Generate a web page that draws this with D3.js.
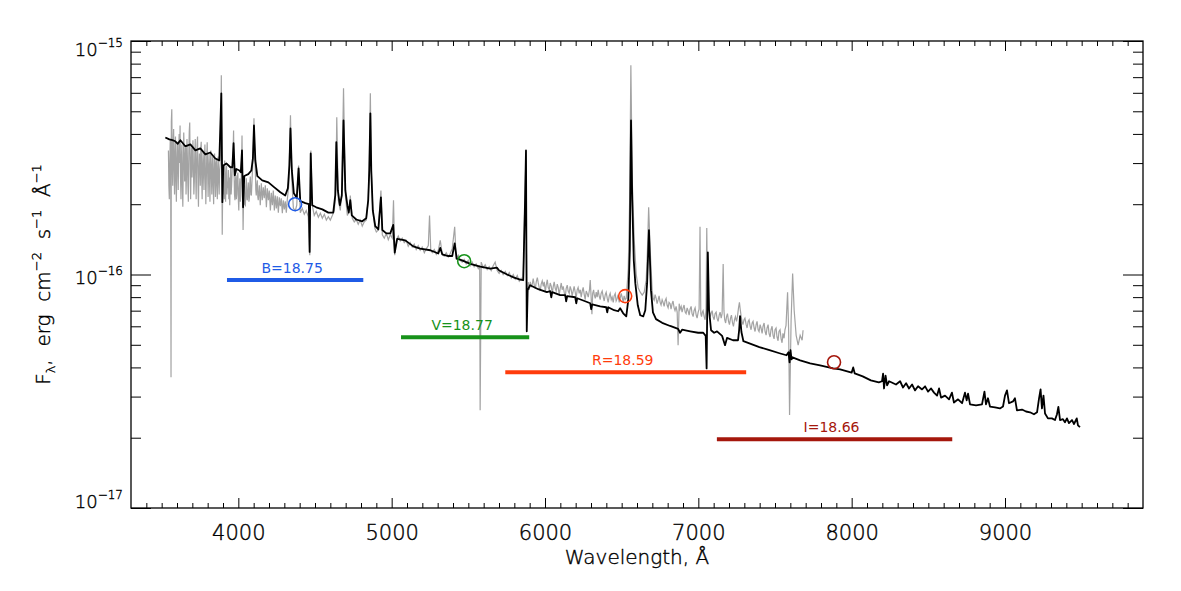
<!DOCTYPE html>
<html>
<head>
<meta charset="utf-8">
<script src="https://cdn.jsdelivr.net/npm/d3@7"></script>
<style>
  body { margin: 0; background: #fff; }
  svg text { font-family: "DejaVu Sans", sans-serif; font-weight: 200; fill: #000; stroke: #000; stroke-width: 0.4px; }
  svg text.band-label { font-weight: 400; stroke: none; }
</style>
</head>
<body>
<svg id="chart"></svg>
<script>
// flux values are in units of 1e-17 erg cm^-2 s^-1 A^-1
const UNIT = 1e-17;
const waveTicks = [4000, 5000, 6000, 7000, 8000, 9000];
const fluxTicks = [1e-17, 1e-16, 1e-15];
const fluxTickExp = ['\u221217', '\u221216', '\u221215'];

const bandNames = ['B', 'V', 'R', 'I'];
const bandMags = ['18.75', '18.77', '18.59', '18.66'];
const bandWave = [4370, 5473, 6523, 7885];
const bandFlux = [20.0, 11.4, 8.08, 4.21];
const bandLo = [3926, 5061, 5741, 7121];
const bandHi = [4815, 5897, 7312, 8656];
const bandBarFlux = [9.47, 5.38, 3.81, 1.97];
const bandColors = ['#1f5be6', '#17921a', '#ff3c0c', '#a5170c'];

// observed spectrum (grey)
const obsSpectrum = [
[3544,34],[3547,24],[3550,21],[3553,30],[3556,38],[3559,27],[3561,3.63],[3563,45],[3566,51],[3569,30],[3572,24],[3575,36],[3578,42],[3581,28],[3584,22],[3587,33],[3590,39],[3593,25],[3596,20.5],[3599,31],[3602,37],[3605,29],[3608,23],[3611,34],[3614,40],[3617,30],[3620,43.5],[3623,26],[3626,21],[3629,32],[3632,36],[3635,24],[3638,19.5],[3641,29],[3644,40.6],[3647,33],[3650,25],[3653,30],[3656,35],[3659,22],[3662,27],[3665,38],[3668,31],[3671,24],[3674,20.5],[3677,33],[3680,41],[3683,44.8],[3686,28],[3689,21],[3692,30],[3695,35],[3698,26],[3701,31],[3704,37.6],[3707,29],[3710,22],[3713,25],[3716,33],[3719,38],[3722,27],[3725,21],[3728,30],[3731,36],[3734,39],[3737,24],[3740,19.5],[3743,28],[3746,33],[3749,30],[3752,24],[3755,35],[3758,37],[3761,26],[3764,21],[3767,29],[3770,33.3],[3773,27],[3776,23],[3779,31],[3782,36],[3785,28],[3788,20],[3791,25],[3794,32],[3797,36.8],[3800,27],[3803,21.5],[3806,28],[3809,33],[3812,25],[3815,20.5],[3818,30],[3821,34],[3824,27],[3827,22],[3830,29],[3833,32],[3836,24],[3839,20],[3842,28],[3845,33],[3848,26],[3851,21.5],[3854,30],[3857,31],[3860,24],[3863,21],[3866,29],[3869,32],[3872,25],[3875,22],[3878,28],[3882,30],[3886,40],[3889,71.4],[3892,38],[3895,14.8],
[3899,27],[3902,22],[3905,29],[3908,21],[3911,30.8],[3914,24],[3917,20.5],[3920,27],[3923,29.3],[3926,22],[3929,25],[3932,23.4],[3935,28],[3938,21],[3941,26],[3944,19.8],[3947,25],[3950,28.5],[3953,22],[3956,24],[3959,27],[3962,30.8],[3966,34],[3969,41.4],[3972,28],[3975,22],[3978,20.8],[3981,25],[3984,26.6],[3987,21],[3990,22],[3993,26],[3997,27.3],[4000,21],[4003,18.8],[4006,23],[4010,25.8],[4013,20.5],[4016,21.8],[4020,27],[4024,39.4],[4028,24],[4031,15.5],[4035,22],[4039,24.1],[4042,20],[4046,19.8],[4049,23.5],[4052,25.8],[4056,21],[4059,20.8],[4062,23],[4065,24.8],[4069,20.5],[4072,21.2],[4075,24.5],[4078,26.3],[4082,22],[4085,21.8],[4090,26],[4095,30.8],[4099,38],[4102,46.7],[4106,33],[4111,27.9],[4114,23],[4117,21.8],[4120,24],[4124,25.3],[4127,21.5],[4130,20.8],
[4137,24.1],[4143,19.8],[4150,24.6],[4156,20.8],[4163,23.6],[4169,21.2],[4176,24.1],[4183,19.4],[4189,23.4],[4196,20.8],[4202,22.9],[4209,18.8],[4215,22.4],[4222,19.8],[4228,22.9],[4235,18.8],[4241,21.8],[4248,19.2],[4254,21.6],[4261,18.4],[4267,21.4],[4274,19.6],[4280,21.2],[4287,18.3],[4293,20.8],[4300,19.0],[4306,20.6],[4313,18.4],[4319,20.8],[4329,24.1],[4340,48.1],[4349,25.3],[4359,19.2],[4372,18.8],[4381,19.8],[4393,29.3],[4404,18.4],[4417,19.2],[4430,18.1],[4443,18.8],[4456,17.7],[4466,12.1],[4473,34.0],[4482,19.8],[4495,17.9],[4508,18.6],[4522,17.6],[4535,18.3],[4548,17.4],[4561,18.1],[4574,17.1],[4587,17.7],[4600,17.1],[4613,17.9],[4626,18.8],[4636,22.9],[4642,47.1],[4652,20.8],[4665,18.8],[4675,22.9],[4686,62.7],[4698,21.8],[4711,17.9],[4724,18.8],[4730,21.8],[4743,17.4],[4756,16.8],[4769,17.2],[4782,16.4],[4795,17.1],[4808,16.1],[4821,16.8],[4834,17.1],[4847,20.8],[4854,29.3],[4861,59.7],[4867,27.9],[4877,18.8],[4890,15.8],[4900,15.2],[4913,15.5],[4930,22.9],[4939,14.8],[4952,14.3],[4965,15.0],[4978,14.1],[4991,14.8],[5004,14.3],[5012,20.8],[5020,12.1],[5030,14.0],[5043,14.6],[5056,13.9],[5069,14.3],[5082,13.7],[5095,14.0],[5108,13.2],[5121,13.7],[5134,13.1],[5147,13.5],[5160,12.8],[5173,13.3],[5186,12.7],[5199,13.1],[5213,12.4],[5226,12.9],[5239,13.3],[5247,17.9],[5255,12.7],[5265,12.4],[5278,12.8],[5291,12.2],[5304,12.7],[5317,14.0],[5330,12.2],[5343,12.0],[5356,12.4],[5369,11.9],[5382,12.3],[5395,12.9],[5411,16.0],[5421,11.6],[5434,12.1],[5447,11.5],[5460,11.3],[5473,11.6],[5486,11.1],[5499,11.5],[5512,10.9],[5525,11.3],[5538,10.8],[5551,11.1],[5565,10.6],[5574,10.9],[5577,2.62],[5584,11.3],[5597,10.7],[5610,11.0],[5623,10.5],[5636,10.8],[5649,10.4],[5662,10.9],[5675,11.3],[5688,10.4],[5701,10.1],[5714,10.4],[5727,10.0],[5741,10.3],[5754,9.9],[5767,10.2],[5780,9.65],[5793,10.0],[5806,9.55],[5819,9.9],[5832,9.37],[5845,9.65],[5858,9.46],[5870,22.9],[5875,30.8],[5881,7.76],
[5891,9.27],[5897,8.6],[5904,9.3],[5910,8.9],[5917,9.1],[5923,9.6],[5930,9.0],[5937,8.7],[5943,9.3],[5950,9.7],[5956,9.2],[5962,8.8],[5969,8.5],[5975,9.1],[5982,9.4],[5989,8.9],[5995,9.3],[6002,8.4],[6008,9.0],[6015,9.5],[6021,8.8],[6028,8.6],[6034,9.2],[6041,8.9],[6047,8.3],[6054,8.9],[6060,9.3],[6067,8.7],[6073,8.5],[6080,9.1],[6086,8.8],[6093,8.2],[6099,8.7],[6106,9.2],[6112,8.6],[6119,8.9],[6125,8.4],[6132,8.0],[6138,8.7],[6145,9.0],[6151,8.5],[6158,8.3],[6164,8.9],[6171,8.6],[6177,8.1],[6184,8.5],[6190,8.9],[6197,8.4],[6203,7.9],[6210,8.6],[6216,8.8],[6223,8.3],[6230,8.6],[6236,8.0],[6243,8.5],[6249,8.8],[6256,8.2],[6262,7.8],[6269,8.5],[6275,8.3],[6282,8.0],[6290,8.6],[6295,9.46],[6300,8.2],[6306,6.76],[6311,8.3],[6317,8.6],[6321,8.2],[6328,7.9],[6334,8.4],[6340,8.0],[6347,8.6],[6353,8.1],[6360,7.8],[6366,8.3],[6373,8.5],[6380,8.0],[6386,7.7],[6393,8.2],[6399,8.4],[6406,7.9],[6412,7.6],[6419,8.1],[6425,8.3],[6432,7.8],[6438,8.0],[6445,7.6],[6451,8.1],[6458,8.3],[6464,7.7],[6471,7.9],[6477,8.2],[6484,7.6],[6490,7.9],[6497,8.3],[6503,8.0],[6510,7.6],[6516,8.1],[6523,7.8],[6530,7.91],
[6543,10.6],[6552,20.8],[6560,78.8],[6569,25.3],[6582,14.0],[6595,10.0],[6608,8.75],[6621,8.4],[6634,8.16],[6647,8.4],[6660,9.46],[6668,12.7],[6676,19.4],[6686,12.7],
[6699,8.57],[6705,7.9],[6712,7.76],[6718,8.2],[6725,7.9],[6731,7.5],[6738,7.8],[6744,8.1],[6751,7.6],[6757,7.4],[6764,7.8],[6770,7.6],[6777,7.3],[6783,7.7],[6790,7.9],[6796,7.4],[6803,7.2],[6809,7.6],[6816,7.5],[6822,7.1],[6829,7.5],[6835,7.7],[6842,7.2],[6848,7.0],[6855,7.3],[6862,6.9],[6868,4.98],[6875,7.5],[6881,7.1],[6888,7.3],[6894,6.9],[6901,7.2],[6907,7.4],[6914,6.9],[6920,6.8],[6927,7.2],[6933,7.0],[6940,6.7],[6946,7.1],[6953,7.3],[6959,6.8],[6966,6.6],[6972,7.0],[6979,7.2],[6986,6.7],[6992,6.5],[6999,6.9],[7005,7.1],[7011,16.0],[7016,6.8],[7021,6.6],[7026,6.9],[7031,7.0],[7038,6.6],[7044,6.4],[7050,7.0],[7055,15.8],[7060,8.5],[7063,7.5],[7068,7.1],[7073,6.9],[7078,6.6],[7083,6.8],[7090,7.0],[7096,6.6],[7103,6.4],[7109,6.8],[7116,6.9],[7122,6.5],[7129,6.3],[7136,6.7],[7142,6.9],[7149,6.5],[7155,6.8],[7162,11.1],[7167,7.0],[7172,6.4],[7178,6.2],[7184,6.6],[7190,6.8],[7197,6.3],[7203,6.1],[7210,6.5],[7216,6.7],[7223,6.2],[7229,6.0],[7236,6.4],[7242,6.6],[7249,6.3],[7255,6.6],[7262,7.2],[7268,7.6],[7272,7.2],[7278,6.7],[7285,6.3],[7291,6.1],[7298,6.4],[7304,6.5],[7312,6.1],[7318,5.9],[7325,6.3],[7331,6.4],[7338,6.0],[7344,5.8],[7351,6.2],[7357,6.3],[7364,5.9],[7370,5.7],[7377,6.1],[7383,6.3],[7390,5.8],[7396,5.7],[7403,6.1],[7409,5.9],[7416,5.6],[7422,6.0],[7429,6.2],[7435,5.7],[7442,5.5],[7448,5.9],[7455,6.1],[7461,5.6],[7468,5.4],[7474,5.8],[7481,6.0],[7487,5.5],[7494,5.3],[7500,5.8],[7507,5.9],[7513,5.4],[7520,5.2],[7526,5.7],[7533,5.8],[7540,5.3],[7546,5.1],[7552,5.6],[7559,5.33],[7565,5.8],[7572,6.06],
[7582,8.4],[7589,5.77],[7595,2.5],[7605,6.37],[7615,10.1],[7625,7.03],[7638,5.49],[7651,4.98],[7664,5.49],[7677,5.23],[7683,5.77]
];

// model spectrum (black)
const modelSpectrum = [
[3524,38.6],[3550,37.9],[3570,37.6],[3589,37.2],[3605,36.3],[3622,37.6],[3654,35.4],[3687,36.1],[3720,34.0],[3752,34.7],[3785,32.7],[3817,33.3],[3850,31.4],[3876,30.8],[3889,59.7],[3896,20.4],[3902,29.3],[3922,29.9],[3948,28.8],[3961,28.8],[3969,36.5],[3977,26.6],[3987,28.3],[4007,27.9],[4016,27.4],[4024,34.0],[4031,19.4],[4039,26.4],[4065,26.9],[4085,27.9],[4095,31.4],[4102,43.5],[4111,30.8],[4124,26.4],[4156,25.3],[4196,24.8],[4235,23.6],[4274,22.5],[4306,21.8],[4323,23.4],[4333,29.3],[4340,42.2],[4349,27.9],[4362,22.3],[4381,21.3],[4393,28.5],[4404,20.6],[4437,20.2],[4460,20.0],[4465,12.5],[4472,33.0],[4482,19.8],[4508,19.4],[4548,19.0],[4587,18.4],[4619,18.4],[4632,21.8],[4639,36.9],[4649,22.9],[4662,19.8],[4675,21.8],[4686,45.7],[4698,22.9],[4711,19.8],[4720,18.4],[4730,20.8],[4740,17.9],[4769,17.2],[4808,16.9],[4834,17.4],[4847,20.8],[4854,27.9],[4861,49.0],[4867,27.9],[4877,18.8],[4893,16.1],[4913,15.6],[4930,21.4],[4939,15.5],[4965,15.0],[4991,15.0],[5010,16.3],[5020,12.4],[5036,14.2],[5089,14.0],[5141,13.2],[5186,12.9],[5252,12.7],[5304,12.3],[5317,13.0],[5330,12.2],[5369,12.0],[5395,12.0],[5411,13.6],[5424,11.7],[5460,11.5],[5512,11.1],[5578,10.8],[5643,10.6],[5686,10.7],[5701,10.4],[5753,10.0],[5799,9.7],[5838,9.5],[5858,9.46],[5870,20.8],[5876,34.0],[5881,5.71],[5887,8.57],[5903,9.0],[5956,8.65],[6012,8.40],[6034,8.48],[6041,7.99],[6047,8.40],[6099,8.16],[6132,8.16],[6138,7.68],[6145,8.08],[6197,7.99],[6204,7.53],[6210,7.91],[6262,7.68],[6295,7.53],[6301,7.10],[6308,7.45],[6360,7.31],[6399,7.24],[6406,6.88],[6412,7.24],[6451,7.03],[6477,6.96],[6490,7.17],[6510,6.82],[6530,6.62],[6543,7.76],[6553,12.7],[6561,45.7],[6569,20.8],[6579,11.5],[6589,9.18],[6605,7.38],[6621,6.69],[6641,6.62],[6654,7.03],[6666,9.18],[6678,15.5],[6691,8.57],[6704,6.88],[6724,6.44],[6764,6.21],[6816,6.02],[6868,5.85],[6881,5.63],[6894,5.80],[6947,5.71],[6999,5.63],[7032,5.63],[7048,5.46],[7054,3.96],[7062,12.45],[7070,7.03],[7083,5.77],[7103,5.63],[7122,5.71],[7155,5.46],[7174,4.98],[7187,5.35],[7226,5.23],[7259,5.23],[7266,5.77],[7272,6.63],[7281,5.67],[7294,5.18],[7346,5.03],[7398,4.89],[7464,4.74],[7529,4.60],[7575,4.51],[7588,4.65],[7595,4.20],[7601,4.74],[7608,4.33],[7614,4.42],[7664,4.29],[7729,4.16],[7794,4.08],[7879,3.96],[7925,3.92],[8000,3.80],[8010,4.00],[8020,3.77],[8072,3.66],[8125,3.52],[8177,3.45],[8198,3.49],[8205,3.76],[8211,3.25],[8221,3.69],[8231,3.35],[8244,3.49],[8289,3.38],[8316,3.49],[8335,3.28],[8355,3.42],[8374,3.25],[8394,3.38],[8413,3.19],[8433,3.32],[8459,3.22],[8479,3.32],[8498,3.15],[8518,3.25],[8537,3.12],[8557,3.03],[8570,3.25],[8583,2.97],[8609,3.03],[8635,2.92],[8654,3.12],[8667,2.83],[8694,2.92],[8720,2.81],[8739,3.12],[8750,2.89],[8759,3.09],[8772,2.78],[8811,2.75],[8850,2.78],[8866,3.15],[8876,2.78],[8889,2.95],[8902,2.72],[8935,2.70],[8967,2.67],[8987,2.72],[9000,3.03],[9013,3.19],[9026,2.81],[9052,2.86],[9065,2.95],[9078,2.62],[9111,2.64],[9137,2.59],[9163,2.57],[9189,2.52],[9209,2.57],[9222,2.95],[9232,3.22],[9241,2.67],[9251,3.03],[9261,2.54],[9280,2.42],[9306,2.42],[9326,2.38],[9339,2.52],[9348,2.71],[9359,2.38],[9378,2.40],[9391,2.33],[9404,2.42],[9417,2.31],[9437,2.38],[9450,2.29],[9468,2.42],[9476,2.26],[9489,2.22]
];

const W = 1181, H = 591;
const margin = { top: 41, right: 38, bottom: 83, left: 131 };
const width = W - margin.left - margin.right;
const height = H - margin.top - margin.bottom;

const svg = d3.select('#chart').attr('width', W).attr('height', H);
const g = svg.append('g').attr('transform', `translate(${margin.left},${margin.top})`);

const x = d3.scaleLinear().domain([3300, 9900]).range([0, width]);
const y = d3.scaleLog().domain([1e-17, 1e-15]).range([height, 0]);

const minorWave = d3.range(3400, 9900, 100).filter(d => d % 1000 !== 0);
const minorFlux = y.ticks().filter(d => !fluxTicks.some(t => Math.abs(d / t - 1) < 1e-6));

// spectra
const line = d3.line()
  .x(d => x(d[0]))
  .y(d => y(d[1] * UNIT));

g.append('path')
  .datum(obsSpectrum)
  .attr('fill', 'none')
  .attr('stroke', '#a3a3a3')
  .attr('stroke-width', 1.2)
  .attr('d', line);

g.append('path')
  .datum(modelSpectrum)
  .attr('fill', 'none')
  .attr('stroke', '#000')
  .attr('stroke-width', 1.8)
  .attr('stroke-linejoin', 'round')
  .attr('d', line);

// photometry: filter bars, labels, circles
const bands = bandNames.map((name, i) => ({
  name, mag: bandMags[i], wave: bandWave[i], flux: bandFlux[i],
  lo: bandLo[i], hi: bandHi[i], bar: bandBarFlux[i], color: bandColors[i]
}));

g.selectAll('.band-bar')
  .data(bands)
  .join('line')
  .attr('class', 'band-bar')
  .attr('x1', d => x(d.lo))
  .attr('x2', d => x(d.hi))
  .attr('y1', d => y(d.bar * UNIT))
  .attr('y2', d => y(d.bar * UNIT))
  .attr('stroke', d => d.color)
  .attr('stroke-width', 4);

g.selectAll('.band-label')
  .data(bands)
  .join('text')
  .attr('class', 'band-label')
  .attr('x', d => (x(d.lo) + x(d.hi)) / 2 - 3)
  .attr('y', d => y(d.bar * UNIT) - 7)
  .attr('text-anchor', 'middle')
  .style('font-size', '14px')
  .style('fill', d => d.color)
  .text(d => `${d.name}=${d.mag}`);

g.selectAll('.band-point')
  .data(bands)
  .join('circle')
  .attr('class', 'band-point')
  .attr('cx', d => x(d.wave))
  .attr('cy', d => y(d.flux * UNIT))
  .attr('r', 6.5)
  .attr('fill', 'none')
  .attr('stroke', d => d.color)
  .attr('stroke-width', 1.6);

// axes, IDL style: ticks inside on all four sides
const styleAxis = sel => {
  sel.select('.domain').remove();
  sel.selectAll('.tick line').attr('stroke', '#000').attr('stroke-width', 1);
};

g.append('g').attr('transform', `translate(0,${height})`)
  .call(d3.axisBottom(x).tickValues(minorWave).tickSize(-5).tickFormat(''))
  .call(styleAxis);
g.append('g').attr('transform', `translate(0,${height})`)
  .call(d3.axisBottom(x).tickValues(waveTicks).tickSize(-10).tickFormat(d3.format('d')))
  .call(styleAxis)
  .call(a => a.selectAll('text')
    .attr('y', 32).attr('dy', null)
    .attr('fill', null)
    .style('font-size', '21px'));

g.append('g')
  .call(d3.axisTop(x).tickValues(minorWave).tickSize(-5).tickFormat(''))
  .call(styleAxis);
g.append('g')
  .call(d3.axisTop(x).tickValues(waveTicks).tickSize(-10).tickFormat(''))
  .call(styleAxis);

g.append('g')
  .call(d3.axisLeft(y).tickValues(minorFlux).tickSize(-10).tickFormat(''))
  .call(styleAxis);
g.append('g')
  .call(d3.axisLeft(y).tickValues(fluxTicks).tickSize(-20).tickFormat(''))
  .call(styleAxis);
g.append('g').attr('transform', `translate(${width},0)`)
  .call(d3.axisRight(y).tickValues(minorFlux).tickSize(-10).tickFormat(''))
  .call(styleAxis);
g.append('g').attr('transform', `translate(${width},0)`)
  .call(d3.axisRight(y).tickValues(fluxTicks).tickSize(-20).tickFormat(''))
  .call(styleAxis);

// y tick labels: 10^n, kept inside the vertical extent of the frame
const yLabels = g.append('g');
fluxTicks.forEach((t, i) => {
  const base = Math.min(height, Math.max(15, y(t) + 9));
  const txt = yLabels.append('text')
    .attr('x', -8)
    .attr('y', base)
    .attr('text-anchor', 'end')
    .style('font-size', '18px');
  txt.append('tspan').text('10');
  txt.append('tspan').attr('dy', -9).style('font-size', '12px').text(fluxTickExp[i]);
});

// frame
g.append('rect')
  .attr('width', width)
  .attr('height', height)
  .attr('fill', 'none')
  .attr('stroke', '#000')
  .attr('stroke-width', 1.3);

// axis titles
g.append('text')
  .attr('x', width / 2)
  .attr('y', height + 56)
  .attr('text-anchor', 'middle')
  .style('font-size', '20px')
  .text('Wavelength, \u00c5');

const yTitle = g.append('text')
  .attr('transform', `translate(${-81},${height / 2}) rotate(-90)`)
  .attr('text-anchor', 'middle')
  .style('font-size', '20px')
  .style('white-space', 'pre');
yTitle.append('tspan').text('F');
yTitle.append('tspan').attr('dy', 5).style('font-size', '13px').text('\u03bb');
yTitle.append('tspan').attr('dy', -5).text(',  erg  cm');
yTitle.append('tspan').attr('dy', -9).style('font-size', '13px').text('\u22122');
yTitle.append('tspan').attr('dy', 9).text('  s');
yTitle.append('tspan').attr('dy', -9).style('font-size', '13px').text('\u22121');
yTitle.append('tspan').attr('dy', 9).text('  \u00c5');
yTitle.append('tspan').attr('dy', -9).style('font-size', '13px').text('\u22121');
</script>
</body>
</html>
